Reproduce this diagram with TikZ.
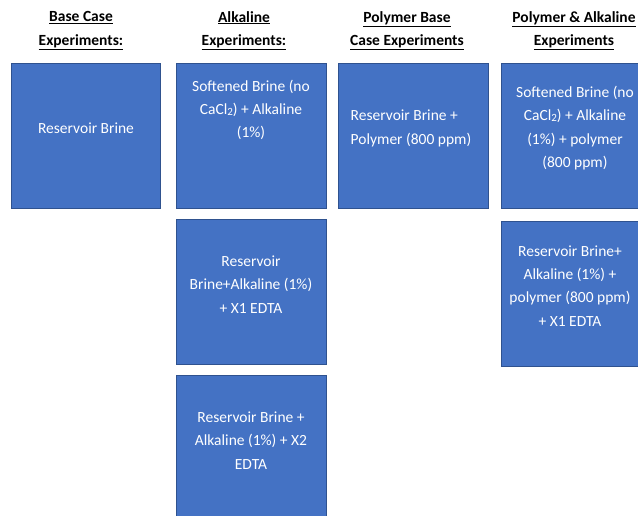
\documentclass[tikz,border=0pt]{standalone}
\usepackage{fontspec}
\setmainfont{Carlito}
\definecolor{boxfill}{HTML}{4472C4}
\definecolor{boxline}{HTML}{2F528F}
\newcommand{\subtwo}{\raisebox{-0.15ex}{\fontsize{11}{11}\selectfont 2}}
\begin{document}
\begin{tikzpicture}[x=1pt,y=-1pt,
  expbox/.style={draw=boxline,line width=0.8pt,fill=boxfill,rectangle,minimum width=150pt,minimum height=145pt,inner sep=0pt},
  boxtext/.style={text=white,align=center,font=\fontsize{15.5}{23.3}\selectfont,inner sep=0pt},
  headtext/.style={text=black,align=center,font=\fontsize{15.5}{23.3}\selectfont\bfseries,inner sep=0pt}]
\useasboundingbox (0,0) rectangle (638,515);
\clip (0,0) rectangle (638,515);
\fill[white] (0,0) rectangle (638,515);
% headers
\node[headtext] (h1) at (81,30.5) {\underline{Base Case}\\\underline{Experiments:}};
\node[headtext] (h2) at (244,30.5) {\underline{Alkaline}\\\underline{Experiments:}};
\node[headtext] (h3) at (407,30.5) {\underline{Polymer Base}\\\underline{Case Experiments}};
\node[headtext] (h4) at (574,30.5) {\underline{Polymer \& Alkaline}\\\underline{Experiments}};
% boxes
\node[expbox,minimum width=149pt] (b1) at (85.5,135.5) {};
\node[expbox] (b2) at (251,135.5) {};
\node[expbox] (b3) at (251,291.5) {};
\node[expbox] (b4) at (251,447.5) {};
\node[expbox] (b5) at (413,135.5) {};
\node[expbox] (b6) at (576,135.5) {};
\node[expbox] (b7) at (576,293.5) {};
% texts
\node[boxtext] (t1) at (86,128) {Reservoir Brine};
\node[boxtext] (t2) at (251,110) {Softened Brine (no\\CaCl\subtwo) + Alkaline\\(1\%)};
\node[boxtext] (t3) at (251,284.5) {Reservoir\\Brine+Alkaline (1\%)\\+ X1 EDTA};
\node[boxtext] (t4) at (251,440.5) {Reservoir Brine +\\Alkaline (1\%) + X2\\EDTA};
\node[boxtext,align=left,anchor=west] (t5) at (350.5,128.5) {Reservoir Brine +\\Polymer (800 ppm)};
\node[boxtext] (t6) at (575,128) {Softened Brine (no\\CaCl\subtwo) + Alkaline\\(1\%) + polymer\\(800 ppm)};
\node[boxtext] (t7) at (570,286) {Reservoir Brine+\\Alkaline (1\%) +\\polymer (800 ppm)\\+ X1 EDTA};
\end{tikzpicture}
\end{document}
